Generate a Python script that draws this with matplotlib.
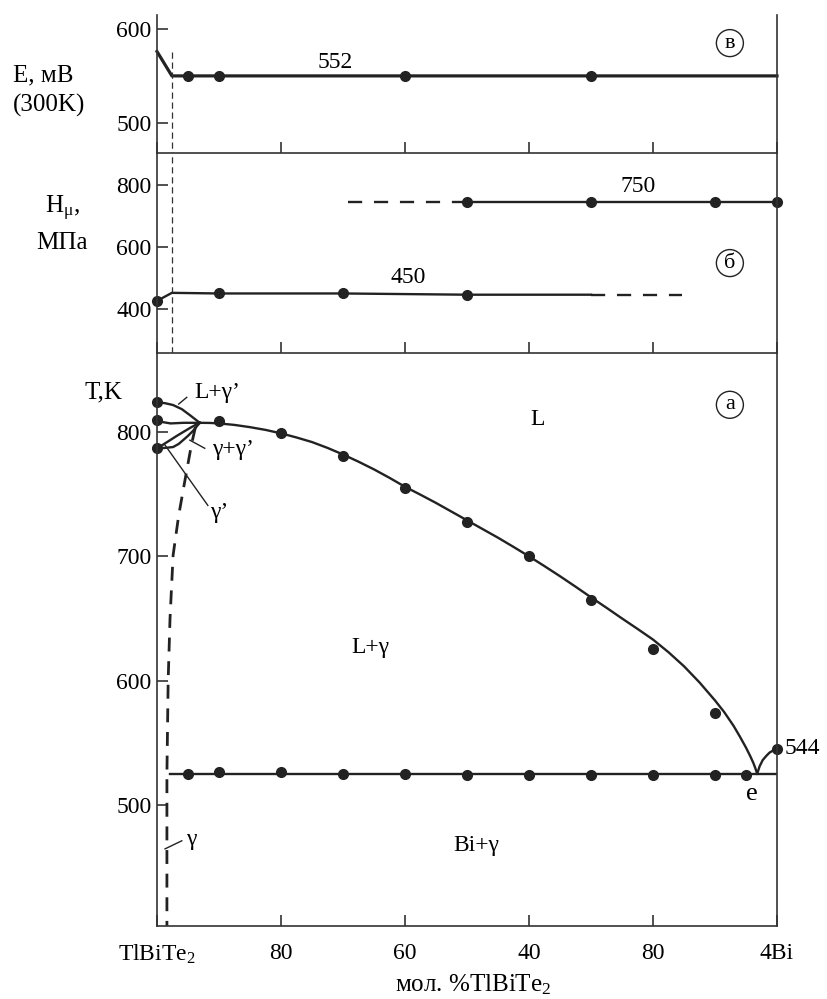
import matplotlib
matplotlib.use('Agg')
import matplotlib.pyplot as plt

plt.rcParams['font.family'] = ['Liberation Serif', 'DejaVu Serif']
plt.rcParams['mathtext.fontset'] = 'custom'
plt.rcParams['mathtext.rm'] = 'Liberation Serif'
plt.rcParams['mathtext.it'] = 'Liberation Serif:italic'
plt.rcParams['font.size'] = 17

# --- data (x = mol.% TlBiTe2) ---
xticks = [100, 80, 60, 40, 20, 0]
xticklabels = ['TlBiTe$_2$', '80', '60', '40', '80', '4Bi']

# в: EMF
e_line_x = [100, 97.6, 0]
e_line_y = [576, 550, 550]
e_dots_x = [95, 90, 60, 30]
e_dots_y = [550, 550, 550, 550]
border_x = 97.6

# б: microhardness
h_low_x = [100, 97.6, 90, 70, 50, 30]
h_low_y = [426, 452, 450, 450, 446, 446]
h_low_dash_x = [30, 15.3]
h_low_dash_y = [446, 446]
h_low_dots_x = [100, 90, 70, 50]
h_low_dots_y = [426, 450, 450, 446]
h_high_x = [50, 0]
h_high_y = [746, 746]
h_high_dash_x = [69.2, 50]
h_high_dash_y = [746, 746]
h_high_dots_x = [50, 30, 10, 0]
h_high_dots_y = [746, 746, 746, 746]

# а: phase diagram
liq_x = [93.1, 91.5, 90, 87.5, 85, 82.5, 80, 77.5, 75, 72.5, 70, 67.5, 65, 62.5, 60, 57.5, 55,
         52.5, 50, 47.5, 45, 42.5, 40, 37.5, 35, 32.5, 30, 27.5, 25, 22.5, 20, 17.5, 15, 12.5,
         10, 8.5, 7, 6, 5, 4.3, 3.8, 3.5, 3.2]
liq_y = [807.5, 807.4, 807, 805.8, 804, 801.8, 799, 795.7, 792, 787.3, 782, 776.2, 770, 763.2,
         756, 749.6, 743, 736, 729, 722, 715, 707.6, 700, 692.1, 684, 675.6, 667, 658.6, 650,
         641.6, 633, 622.8, 611.5, 598.5, 584, 574.5, 563.5, 555, 546, 539, 533.5, 529.5, 525]
bi_liq_x = [3.2, 2.8, 2.3, 1.7, 1.2, 0.6, 0]
bi_liq_y = [525, 531, 536, 539.5, 542, 543.8, 545]
liq_dots_x = [90, 80, 70, 60, 50, 40, 30, 20, 10]
liq_dots_y = [809, 799, 781, 755, 728, 700, 665, 625, 574]

eut_x = [97.9, 0]
eut_y = [525, 525]
eut_dots_x = [95, 90, 80, 70, 60, 50, 40, 30, 20, 10, 5]
eut_dots_y = [525, 526, 526, 525, 525, 524, 524, 524, 524, 524, 524]

gp_liq_x = [100, 98.7, 97.4, 96.0, 94.7, 93.8, 93.1]
gp_liq_y = [824, 823.3, 821.8, 818.5, 813.7, 810.2, 807.5]
gp_sol_x = [100, 99, 97.8, 95.7, 93.1]
gp_sol_y = [809.7, 808, 807, 807.5, 807.5]
lens_up_x = [100, 99, 97.9, 96.8, 95.8, 94.8, 93.9, 93.1]
lens_up_y = [787, 790, 793.5, 797, 800, 803, 805.5, 807.5]
lens_lo_x = [100, 98.7, 97.4, 96.5, 95.8, 95, 94.2, 93.1]
lens_lo_y = [787, 787.3, 788, 790.5, 793.5, 797, 801, 807.5]
left_dots_x = [100, 100, 100]
left_dots_y = [824, 810, 787]

solvus_x = [93.8, 94.4, 95.5, 96.5, 97.4, 97.9, 98.2, 98.4, 98.4]
solvus_y = [804, 791, 761, 733, 701, 650, 600, 525, 402.5]

W, H = 828, 999
fig = plt.figure(figsize=(W / 100, H / 100), dpi=100)

def px_axes(top, bottom):
    return fig.add_axes([157 / W, 1 - bottom / H, 620 / W, (bottom - top) / H])

ax_e = px_axes(15, 153)
ax_h = px_axes(153, 353)
ax_t = px_axes(353, 926)

ink = '#222222'
lw = 1.7
ms = 7
for ax in (ax_e, ax_h, ax_t):
    ax.set_xlim(100, 0)
    ax.set_xticks(xticks)
    ax.spines['top'].set_visible(False)
    for s in ax.spines.values():
        s.set_linewidth(1.2)
        s.set_color('#333333')
    ax.tick_params(direction='in', length=8, width=1.2, color='#333333', labelsize=17, pad=4)
    ax.set_facecolor('none')

ax_e.set_xticklabels([])
ax_h.set_xticklabels([])
ax_t.set_xticklabels(xticklabels)
ax_t.tick_params(axis='x', pad=12)

circ = dict(boxstyle='circle,pad=0.18', fc='white', ec=ink, lw=1)

# panel в
ax_e.set_ylim(467.7, 615)
ax_e.set_yticks([500, 600])
ax_e.plot(e_line_x, e_line_y, color=ink, lw=2.3, clip_on=False)
ax_e.plot(e_dots_x, e_dots_y, 'o', color=ink, ms=ms)
ax_e.plot([border_x, border_x], [575, 467.7], '--', color='#333333', lw=0.9, dashes=(5, 3))
ax_e.text(71.3, 564, '552', ha='center', va='center')
ax_e.text(7.6, 585, 'в', ha='center', va='center', fontsize=16, bbox=circ)

# panel б
ax_h.set_ylim(258, 903)
ax_h.set_yticks([400, 600, 800])
ax_h.axvline(border_x, color='#333333', lw=0.9, ls='--', dashes=(5, 3))
ax_h.plot(h_low_x, h_low_y, color=ink, lw=lw, clip_on=False)
ax_h.plot(h_low_dash_x, h_low_dash_y, color=ink, lw=lw, dashes=(6, 5))
ax_h.plot(h_low_dots_x, h_low_dots_y, 'o', color=ink, ms=ms, clip_on=False)
ax_h.plot(h_high_x, h_high_y, color=ink, lw=lw)
ax_h.plot(h_high_dash_x, h_high_dash_y, color=ink, lw=lw, dashes=(6, 5))
ax_h.plot(h_high_dots_x, h_high_dots_y, 'o', color=ink, ms=ms, clip_on=False)
ax_h.text(59.5, 503, '450', ha='center', va='center')
ax_h.text(22.4, 794, '750', ha='center', va='center')
ax_h.text(7.6, 548, 'б', ha='center', va='center', fontsize=16, bbox=circ)

# panel а
ax_t.set_ylim(402.4, 863.7)
ax_t.set_yticks([500, 600, 700, 800])
ax_t.plot(liq_x, liq_y, color=ink, lw=lw)
ax_t.plot(bi_liq_x, bi_liq_y, color=ink, lw=lw, clip_on=False)
ax_t.plot(liq_dots_x, liq_dots_y, 'o', color=ink, ms=ms)
ax_t.plot([0], [545], 'o', color=ink, ms=ms, clip_on=False)
ax_t.plot(eut_x, eut_y, color=ink, lw=lw)
ax_t.plot(eut_dots_x, eut_dots_y, 'o', color=ink, ms=ms)
ax_t.plot(gp_liq_x, gp_liq_y, color=ink, lw=lw)
ax_t.plot(gp_sol_x, gp_sol_y, color=ink, lw=lw)
ax_t.plot(lens_up_x, lens_up_y, color=ink, lw=lw)
ax_t.plot(lens_lo_x, lens_lo_y, color=ink, lw=lw)
ax_t.plot(left_dots_x, left_dots_y, 'o', color=ink, ms=ms, clip_on=False)
ax_t.plot(solvus_x, solvus_y, color=ink, lw=2.0, dashes=(5, 3.5))

ax_t.text(38.7, 810, 'L', ha='center', va='center')
ax_t.text(65.6, 627, 'L+γ', ha='center', va='center')
ax_t.text(48.5, 467, 'Bi+γ', ha='center', va='center')
ax_t.text(4.0, 509, 'e', ha='center', va='center', fontsize=19)
ax_t.text(-1.2, 545, '544', ha='left', va='center', clip_on=False)
ax_t.text(7.6, 822, 'а', ha='center', va='center', fontsize=16, bbox=circ)

# small phase labels with leader lines
ax_t.text(90.3, 832, 'L+γ’', ha='center', va='center')
ax_t.plot([96.5, 95.2], [822.6, 828], color=ink, lw=1)
ax_t.text(87.8, 786, 'γ+γ’', ha='center', va='center')
ax_t.plot([94.7, 92.3], [793.5, 787], color=ink, lw=1)
ax_t.text(90.0, 735, 'γ’', ha='center', va='center')
ax_t.plot([98.7, 91.8], [789.5, 741], color=ink, lw=1)
ax_t.text(94.5, 472, 'γ', ha='center', va='center')
ax_t.plot([98.7, 96.0], [464.5, 471], color=ink, lw=1)

# axis titles
fig.text(13 / W, 1 - 75 / H, 'E, мВ', ha='left', va='center', fontsize=18)
fig.text(13 / W, 1 - 105 / H, '(300K)', ha='left', va='center', fontsize=18)
fig.text(62 / W, 1 - 208 / H, 'H$_{\\mathrm{μ}}$,', ha='center', va='center', fontsize=18)
fig.text(62 / W, 1 - 243 / H, 'МПа', ha='center', va='center', fontsize=18)
fig.text(104 / W, 1 - 392 / H, 'T,K', ha='center', va='center', fontsize=18)
fig.text(473 / W, 1 - 985 / H, 'мол. %TlBiTe$_2$', ha='center', va='center', fontsize=18)

fig.savefig('out.png', dpi=100)
